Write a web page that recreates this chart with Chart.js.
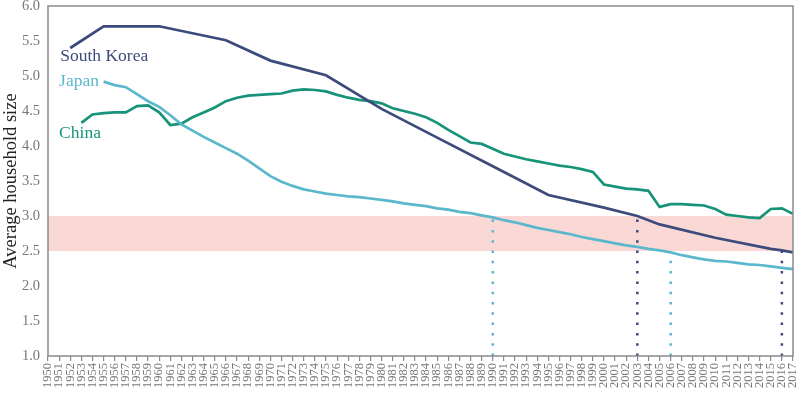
<!DOCTYPE html>
<html>
<head>
<meta charset="utf-8">
<script src="https://cdn.jsdelivr.net/npm/chart.js@4/dist/chart.umd.min.js"></script>
<style>
  body { margin: 0; background: #fff; }
  #wrap { width: 800px; height: 393px; }
</style>
</head>
<body>
<div id="wrap"><canvas id="grafico" width="800" height="393"></canvas></div>
<script>
// Datos (tamaño medio del hogar)
const koreaYears = [1952, 1955, 1960, 1966, 1970, 1975, 1980, 1985, 1990, 1995, 2000, 2003, 2005, 2010, 2015, 2016, 2017];
const koreaSize = [5.40, 5.71, 5.71, 5.51, 5.22, 5.01, 4.53, 4.12, 3.71, 3.30, 3.12, 3.00, 2.88, 2.69, 2.53, 2.51, 2.48];

const japanYears = [1955, 1956, 1957, 1958, 1959, 1960, 1961, 1962, 1963, 1964, 1965, 1966, 1967, 1968, 1969, 1970,
  1971, 1972, 1973, 1974, 1975, 1976, 1977, 1978, 1979, 1980, 1981, 1982, 1983, 1984, 1985, 1986, 1987, 1988, 1989,
  1990, 1991, 1992, 1993, 1994, 1995, 1996, 1997, 1998, 1999, 2000, 2001, 2002, 2003, 2004, 2005, 2006, 2007, 2008,
  2009, 2010, 2011, 2012, 2013, 2014, 2015, 2016, 2017];
const japanSize = [4.92, 4.87, 4.84, 4.74, 4.64, 4.56, 4.44, 4.31, 4.22, 4.13, 4.05, 3.97, 3.89, 3.79, 3.68, 3.57,
  3.49, 3.43, 3.38, 3.35, 3.32, 3.30, 3.28, 3.27, 3.25, 3.23, 3.21, 3.18, 3.16, 3.14, 3.11, 3.09, 3.06, 3.04, 3.01,
  2.98, 2.94, 2.91, 2.87, 2.83, 2.80, 2.77, 2.74, 2.70, 2.67, 2.64, 2.61, 2.58, 2.56, 2.53, 2.51, 2.48, 2.44, 2.41,
  2.38, 2.36, 2.35, 2.33, 2.31, 2.30, 2.28, 2.26, 2.24];

const chinaYears = [1953, 1954, 1955, 1956, 1957, 1958, 1959, 1960, 1961, 1962, 1963, 1964, 1965, 1966, 1967, 1968,
  1969, 1970, 1971, 1972, 1973, 1974, 1975, 1976, 1977, 1978, 1979, 1980, 1981, 1982, 1983, 1984, 1985, 1986, 1987,
  1988, 1989, 1990, 1991, 1992, 1993, 1994, 1995, 1996, 1997, 1998, 1999, 2000, 2001, 2002, 2003, 2004, 2005, 2006,
  2007, 2008, 2009, 2010, 2011, 2012, 2013, 2014, 2015, 2016, 2017];
const chinaSize = [4.33, 4.45, 4.47, 4.48, 4.48, 4.57, 4.58, 4.48, 4.30, 4.32, 4.41, 4.48, 4.55, 4.64, 4.69, 4.72,
  4.73, 4.74, 4.75, 4.79, 4.81, 4.80, 4.78, 4.73, 4.69, 4.66, 4.64, 4.61, 4.54, 4.50, 4.46, 4.41, 4.33, 4.23, 4.14,
  4.05, 4.03, 3.96, 3.89, 3.85, 3.81, 3.78, 3.75, 3.72, 3.70, 3.67, 3.63, 3.45, 3.42, 3.39, 3.38, 3.36, 3.13, 3.17,
  3.17, 3.16, 3.15, 3.10, 3.02, 3.00, 2.98, 2.97, 3.10, 3.11, 3.03];

// Banda 2.5 - 3.0
const bandaYears = [1950, 2017];
const bandaTop = 3.0;
const bandaBottom = 2.5;

// Líneas punteadas (año, valor donde cruza)
const marcasJapan = [[1990, 2.99], [2006, 2.48]];
const marcasKorea = [[2003, 3.00], [2016, 2.51]];

// Etiquetas de las series (año, valor, texto)
const etiquetas = [
  [1951.1, 5.28, 'South Korea', '#3c4b7b'],
  [1951.0, 4.92, 'Japan', '#5bb8cc'],
  [1951.0, 4.18, 'China', '#17937a']
];

const colKorea = '#3c4b7b';
const colJapan = '#5bb8cc';
const colChina = '#17937a';
const serif = "'Liberation Serif', 'Times New Roman', serif";

const toPoints = (xs, ys) => xs.map((x, i) => ({ x: x, y: ys[i] }));

const datasets = [
  {
    label: 'banda',
    data: bandaYears.map(x => ({ x: x, y: bandaTop })),
    borderWidth: 0,
    pointRadius: 0,
    backgroundColor: '#f9d8d6',
    fill: { value: bandaBottom },
    order: 10
  },
  {
    label: 'South Korea',
    data: toPoints(koreaYears, koreaSize),
    borderColor: colKorea,
    borderWidth: 2.7,
    pointRadius: 0,
    order: 1
  },
  {
    label: 'Japan',
    data: toPoints(japanYears, japanSize),
    borderColor: colJapan,
    borderWidth: 2.7,
    pointRadius: 0,
    order: 1
  },
  {
    label: 'China',
    data: toPoints(chinaYears, chinaSize),
    borderColor: colChina,
    borderWidth: 2.7,
    pointRadius: 0,
    order: 1
  }
];

// Líneas verticales punteadas
marcasJapan.forEach(([x, y]) => {
  datasets.push({ data: [{ x: x, y: 1 }, { x: x, y: y }], borderColor: colJapan, borderWidth: 2.5, borderDash: [2.5, 7.8], pointRadius: 0, order: 5 });
});
marcasKorea.forEach(([x, y]) => {
  datasets.push({ data: [{ x: x, y: 1 }, { x: x, y: y }], borderColor: colKorea, borderWidth: 2.5, borderDash: [2.5, 7.8], pointRadius: 0, order: 5 });
});

// Marco completo y etiquetas de series
const marco = {
  id: 'marco',
  afterDraw(chart) {
    const { ctx, chartArea: a, scales } = chart;
    ctx.save();
    ctx.strokeStyle = '#8a8a8a';
    ctx.lineWidth = 1.5;
    ctx.strokeRect(a.left, a.top, a.right - a.left, a.bottom - a.top);
    ctx.font = '17.5px ' + serif;
    ctx.textBaseline = 'middle';
    etiquetas.forEach(([x, y, txt, col]) => {
      ctx.fillStyle = col;
      ctx.fillText(txt, scales.x.getPixelForValue(x), scales.y.getPixelForValue(y));
    });
    ctx.restore();
  }
};

new Chart(document.getElementById('grafico'), {
  type: 'line',
  data: { datasets },
  plugins: [marco],
  options: {
    responsive: false,
    animation: false,
    layout: { padding: { top: 6, right: 7, left: 0, bottom: 0 } },
    plugins: { legend: { display: false }, tooltip: { enabled: false } },
    scales: {
      x: {
        type: 'linear',
        min: 1950,
        max: 2017,
        afterFit: s => { s.height = 37; s.paddingLeft = 0; s.paddingRight = 0; },
        border: { display: false },
        grid: { drawOnChartArea: false, drawTicks: true, tickLength: 5, color: '#8a8a8a', lineWidth: 1.2 },
        ticks: {
          stepSize: 1,
          autoSkip: false,
          maxRotation: 90,
          minRotation: 90,
          padding: 2,
          color: '#777',
          font: { family: serif, size: 12.5 },
          callback: v => String(v)
        }
      },
      y: {
        min: 1,
        max: 6,
        afterFit: s => { s.width = 48; s.paddingTop = 0; s.paddingBottom = 0; },
        border: { display: false },
        grid: { display: false, drawTicks: false },
        ticks: {
          stepSize: 0.5,
          padding: 8,
          color: '#777',
          font: { family: serif, size: 14.5 },
          callback: v => v.toFixed(1)
        },
        title: {
          display: true,
          text: 'Average household size',
          color: '#222',
          padding: 0,
          font: { family: serif, size: 18.5 }
        }
      }
    }
  }
});
</script>
</body>
</html>
